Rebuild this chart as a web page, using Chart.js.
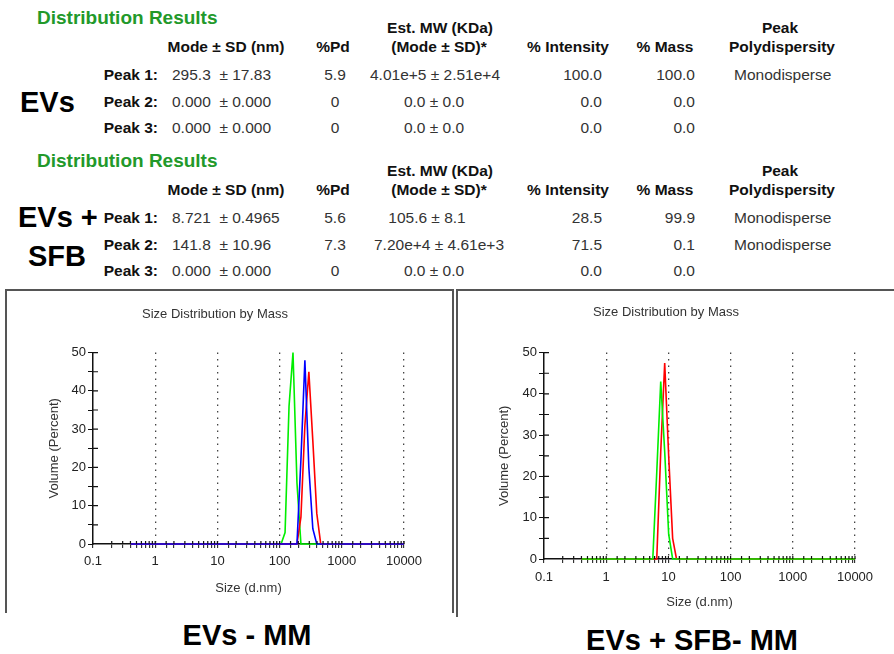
<!DOCTYPE html>
<html>
<head>
<meta charset="utf-8">
<script src="https://cdn.jsdelivr.net/npm/chart.js@4.4.1/dist/chart.umd.min.js"></script>
<style>
  html, body { margin: 0; padding: 0; background: #fff; }
  body { width: 894px; height: 654px; position: relative; overflow: hidden;
         font-family: Arial, "Liberation Sans", sans-serif; }
  .t { position: absolute; white-space: pre; line-height: 1; }
  .green { color: #22992a; font-weight: bold; font-size: 19px; }
  .hd { color: #111; font-weight: bold; font-size: 15.5px; }
  .val { color: #333; font-size: 15.5px; }
  .big { color: #000; font-weight: bold; font-size: 29px; }
  .panel { position: absolute; border: 0 solid #555; }
  canvas { position: absolute; }
</style>
</head>
<body>
<div class="panel" style="left:5px; top:289px; width:445px; height:322px; border-top-width:2px; border-left-width:2px; border-right-width:2px;"></div>
<div class="panel" style="left:456px; top:289px; width:440px; height:326px; border-top-width:2px; border-left-width:2px;"></div>
<canvas id="evs" width="446" height="320" style="left:6px; top:291px;"></canvas>
<canvas id="sfb" width="437" height="330" style="left:457px; top:291px;"></canvas>
<script>
// ---- table data ----
const peakNames = ['Peak 1:', 'Peak 2:', 'Peak 3:'];
const evsMode = ['295.3  \u00b1 17.83', '0.000  \u00b1 0.000', '0.000  \u00b1 0.000'];
const evsPd = ['5.9', '0', '0'];
const evsMW = ['4.01e+5 \u00b1 2.51e+4', '0.0 \u00b1 0.0', '0.0 \u00b1 0.0'];
const evsIntensity = ['100.0', '0.0', '0.0'];
const evsMass = ['100.0', '0.0', '0.0'];
const evsPoly = ['Monodisperse', '', ''];

const sfbMode = ['8.721  \u00b1 0.4965', '141.8  \u00b1 10.96', '0.000  \u00b1 0.000'];
const sfbPd = ['5.6', '7.3', '0'];
const sfbMW = ['105.6 \u00b1 8.1', '7.20e+4 \u00b1 4.61e+3', '0.0 \u00b1 0.0'];
const sfbIntensity = ['28.5', '71.5', '0.0'];
const sfbMass = ['99.9', '0.1', '0.0'];
const sfbPoly = ['Monodisperse', 'Monodisperse', ''];

// ---- chart data: size bins (d.nm) and volume (%) ----
const evsSizes = [0.4, 105.7, 122.4, 141.8, 164.2, 190.1, 220.2, 255.0, 295.3, 342.0, 396.1, 458.7, 531.2, 10000];
const evsBlue  = [0, 0, 0, 0, 0, 0, 22, 48, 20, 4, 0, 0, 0, 0];
const evsGreen = [0, 0, 3, 36, 50, 16, 0, 0, 0, 0, 0, 0, 0, 0];
const evsRed   = [0, 0, 0, 0, 0, 0, 7, 31, 45, 27, 8, 0, 0, 0];

const sfbSizes = [0.4, 5.61, 6.50, 7.53, 8.72, 10.1, 11.7, 13.5, 15.7, 10000];
const sfbGreen = [0, 0, 21, 43, 26, 6, 0, 0, 0, 0];
const sfbRed   = [0, 0, 0, 26, 47.5, 25, 5, 0, 0, 0];

const xTicks = [0.1, 1, 10, 100, 1000, 10000];

// ---- text blocks ----
function put(txt, x, y, cls, align) {
  const d = document.createElement('div');
  d.className = 't ' + cls;
  d.textContent = txt;
  d.style.left = x + 'px';
  d.style.top = y + 'px';
  const tx = align === 'center' ? '-50%' : align === 'right' ? '-100%' : '0';
  d.style.transform = 'translate(' + tx + ',-50%)';
  document.body.appendChild(d);
}

function table(dy, mode, pd, mw, inten, mass, poly, mwCenters) {
  put('Distribution Results', 37, 17 + dy, 'green', 'left');
  put('Mode \u00b1 SD (nm)', 226, 47 + dy, 'hd', 'center');
  put('%Pd', 333, 47 + dy, 'hd', 'center');
  put('Est. MW (KDa)', 440, 28 + dy, 'hd', 'center');
  put('(Mode \u00b1 SD)*', 439, 47 + dy, 'hd', 'center');
  put('% Intensity', 568, 47 + dy, 'hd', 'center');
  put('% Mass', 665, 47 + dy, 'hd', 'center');
  put('Peak', 780, 28 + dy, 'hd', 'center');
  put('Polydispersity', 782, 47 + dy, 'hd', 'center');
  const rowY = [75, 102, 128];
  for (let i = 0; i < 3; i++) {
    const y = rowY[i] + dy;
    put(peakNames[i], 158, y, 'hd', 'right');
    put(mode[i], 172, y, 'val', 'left');
    put(pd[i], 335, y, 'val', 'center');
    put(mw[i], mwCenters[i], y, 'val', 'center');
    put(inten[i], 602, y, 'val', 'right');
    put(mass[i], 695, y, 'val', 'right');
    if (poly[i]) put(poly[i], 734, y, 'val', 'left');
  }
}
table(0, evsMode, evsPd, evsMW, evsIntensity, evsMass, evsPoly, [435, 434, 434]);
table(143, sfbMode, sfbPd, sfbMW, sfbIntensity, sfbMass, sfbPoly, [427, 439, 434]);
put('EVs', 20, 102, 'big', 'left');
put('EVs +', 18, 217, 'big', 'left');
put('SFB', 28, 256, 'big', 'left');
put('EVs - MM', 247, 635, 'big', 'center');
put('EVs + SFB- MM', 692, 640, 'big', 'center');

// ---- charts ----
Chart.defaults.font.family = 'Arial, "Liberation Sans", sans-serif';

function isDecade(v) {
  const l = Math.log10(v);
  return Math.abs(l - Math.round(l)) < 1e-6;
}

// short tick marks on the inner side of both axes, drawn over the curves
const crossTicks = {
  id: 'crossTicks',
  afterDatasetsDraw(chart) {
    const { ctx, chartArea, scales: { x, y } } = chart;
    ctx.save();
    ctx.strokeStyle = '#111';
    ctx.lineWidth = 1.2;
    ctx.beginPath();
    x.ticks.forEach((t) => {
      const px = x.getPixelForValue(t.value);
      if (px <= chartArea.left + 1) return;
      ctx.moveTo(px, chartArea.bottom);
      ctx.lineTo(px, chartArea.bottom - 3);
    });
    y.ticks.forEach((t) => {
      const py = y.getPixelForValue(t.value);
      if (py >= chartArea.bottom - 1) return;
      ctx.moveTo(chartArea.left, py);
      ctx.lineTo(chartArea.left + 5, py);
    });
    ctx.stroke();
    ctx.restore();
  }
};

function series(sizes, vals, color) {
  return {
    data: sizes.map((s, i) => ({ x: s, y: vals[i] })),
    borderColor: color,
    backgroundColor: color,
    borderWidth: 1.6,
    pointRadius: 0,
    tension: 0,
    clip: false
  };
}

function makeOptions(p) {
  return {
    responsive: false,
    animation: false,
    layout: { padding: { left: 20, right: p.right, top: 0, bottom: 0 } },
    plugins: {
      legend: { display: false },
      tooltip: { enabled: false },
      title: {
        display: true,
        text: 'Size Distribution by Mass',
        color: '#333',
        font: { size: 13, weight: 'normal' },
        padding: { top: p.titleTop, bottom: p.titleBottom }
      }
    },
    scales: {
      x: {
        type: 'logarithmic',
        min: 0.1,
        max: 10000,
        ticks: {
          autoSkip: false,
          maxRotation: 0,
          padding: p.xPad,
          color: '#222',
          font: { size: 13 },
          callback: (v) => (isDecade(v) && xTicks.includes(+v.toPrecision(3))) ? String(+v.toPrecision(3)) : ''
        },
        grid: {
          color: (ctx) => (ctx.tick && isDecade(ctx.tick.value) && ctx.tick.value > 0.5) ? '#444' : 'rgba(0,0,0,0)',
          lineWidth: 1.3,
          tickColor: '#111',
          tickLength: 4,
          tickWidth: 1
        },
        border: { color: '#111', width: 1.5, dash: [1.5, 5] },
        title: {
          display: true,
          text: 'Size (d.nm)',
          color: '#333',
          font: { size: 13 },
          padding: { top: 0, bottom: p.xTitleBottom }
        },
        afterFit: (s) => { s.height = p.xHeight; }
      },
      y: {
        min: 0,
        max: 50,
        ticks: {
          stepSize: 5,
          autoSkip: false,
          padding: 2,
          color: '#222',
          font: { size: 13 },
          callback: (v) => (v % 10 === 0 ? String(v) : '')
        },
        grid: { drawOnChartArea: false, tickColor: '#111', tickLength: 5 },
        border: { color: '#111', width: 1.5 },
        title: {
          display: true,
          text: 'Volume (Percent)',
          color: '#333',
          font: { size: 13 },
          padding: { top: p.yTitleTop, bottom: 0 }
        },
        afterFit: (s) => { s.width = 67; }
      }
    }
  };
}

new Chart(document.getElementById('evs'), {
  type: 'line',
  data: {
    datasets: [
      series(evsSizes, evsBlue, '#0000ff'),
      series(evsSizes, evsRed, '#ff0000'),
      series(evsSizes, evsGreen, '#00ee00')
    ]
  },
  options: makeOptions({ right: 48, titleTop: 16, titleBottom: 30, xPad: 6, xTitleBottom: 15, xHeight: 67, yTitleTop: 21 }),
  plugins: [crossTicks]
});

new Chart(document.getElementById('sfb'), {
  type: 'line',
  data: {
    datasets: [
      series(sfbSizes, sfbGreen, '#00ee00'),
      series(sfbSizes, sfbRed, '#ff0000')
    ]
  },
  options: makeOptions({ right: 39, titleTop: 14, titleBottom: 32, xPad: 7, xTitleBottom: 11, xHeight: 62, yTitleTop: 20 }),
  plugins: [crossTicks]
});
</script>
</body>
</html>
